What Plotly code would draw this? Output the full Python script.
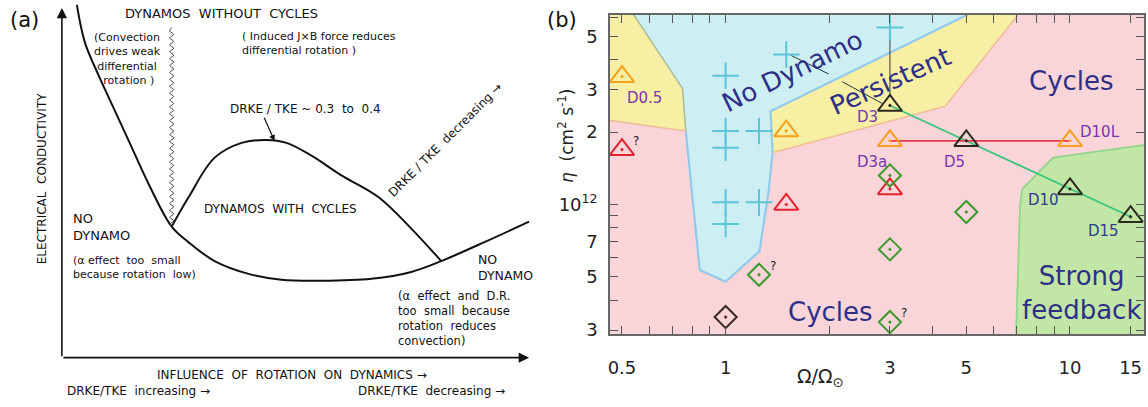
import math
import plotly.graph_objects as go

# ================= Panel (a): schematic (arbitrary units) =================
u_curve_x = [7.5, 8.3, 9.7, 11.2, 12.7, 14.7, 17.0, 18.7, 21.3, 24.7, 28.0, 32.0, 37.0, 41.0, 44.0, 48.5, 52.8]
u_curve_y = [40.2, 36.4, 33.0, 29.7, 26.4, 22.0, 17.7, 16.1, 14.2, 12.9, 12.3, 12.2, 12.4, 13.1, 14.2, 16.2, 18.2]
hump_x = [17.0, 18.7, 21.3, 24.0, 26.5, 28.5, 31.0, 34.0, 37.7, 41.0, 44.0]
hump_y = [17.7, 20.7, 24.7, 26.2, 26.5, 26.2, 24.9, 22.9, 20.7, 17.5, 14.2]
wavy_y = [37.9, 37.55, 37.2, 36.85, 36.5, 36.15, 35.8, 35.45, 35.1, 34.75, 34.4, 34.05, 33.7, 33.35,
          33.0, 32.65, 32.3, 31.95, 31.6, 31.25, 30.9, 30.55, 30.2, 29.85, 29.5, 29.15, 28.8, 28.45,
          28.1, 27.75, 27.4, 27.05, 26.7, 26.35, 26.0, 25.65, 25.3, 24.95, 24.6, 24.25, 23.9, 23.55,
          23.2, 22.85, 22.5, 22.15, 21.8, 21.45, 21.1, 20.75, 20.4, 20.05, 19.7, 19.35, 19.0, 18.65,
          18.3, 17.95, 17.7]
wavy_x = [17.0, 16.8, 17.2, 16.8, 17.2, 16.8, 17.2, 16.8, 17.2, 16.8, 17.2, 16.8, 17.2, 16.8,
          17.2, 16.8, 17.2, 16.8, 17.2, 16.8, 17.2, 16.8, 17.2, 16.8, 17.2, 16.8, 17.2, 16.8,
          17.2, 16.8, 17.2, 16.8, 17.2, 16.8, 17.2, 16.8, 17.2, 16.8, 17.2, 16.8, 17.2, 16.8,
          17.2, 16.8, 17.2, 16.8, 17.2, 16.8, 17.2, 16.8, 17.2, 16.8, 17.2, 16.8, 17.2, 16.8,
          17.2, 16.8, 17.0]
axis_origin = (6.0, 4.4)
axis_x_end = 52.8
axis_y_end = 39.9

# ================= Panel (b): regime diagram =================
# region polygons (Omega/Omega_sun, eta)
pers_left_x = [0.40, 0.541, 0.750, 0.766, 0.40]
pers_left_y = [6.3e12, 6.3e12, 3.03e12, 2.02e12, 2.28e12]
nodyn_x = [0.541, 0.750, 0.766, 0.808, 0.841, 1.0, 1.254, 1.332, 1.369, 1.350, 5.03]
nodyn_y = [6.15e12, 3.03e12, 2.02e12, 0.977e12, 5.34e11, 4.77e11, 6.39e11, 1.125e12, 1.64e12, 2.44e12, 6.15e12]
pers_x = [1.350, 5.03, 7.07, 4.34, 1.369]
pers_y = [2.44e12, 6.15e12, 6.15e12, 2.56e12, 1.64e12]
strong_x = [17.5, 8.93, 7.26, 7.16, 6.97, 17.5]
strong_y = [1.79e12, 1.565e12, 1.157e12, 0.98e12, 2.8e11, 2.8e11]
pinkedge1_x = [0.40, 0.766]
pinkedge1_y = [2.30e12, 2.02e12]
pinkedge2_x = [1.369, 4.34, 7.07]
pinkedge2_y = [1.64e12, 2.56e12, 6.15e12]

# runs
plus_x = [1, 1.5, 3, 1, 1.25, 1, 1, 1.25, 1]
plus_y = [3.43e12, 4.2e12, 5.45e12, 2.02e12, 2.02e12, 1.72e12, 1.02e12, 1.02e12, 8.3e11]
tri_orange_x = [0.5, 1.5, 3, 10]
tri_orange_y = [3.4e12, 2.02e12, 1.84e12, 1.84e12]
tri_red_x = [0.5, 1.5, 3]
tri_red_y = [1.69e12, 1.0e12, 1.16e12]
tri_black_x = [3, 5, 10, 15]
tri_black_y = [2.58e12, 1.84e12, 1.16e12, 0.889e12]
dia_green_x = [1.25, 3, 5, 3, 3]
dia_green_y = [5.1e11, 1.32e12, 9.3e11, 6.5e11, 3.24e11]
dia_black_x = [1]
dia_black_y = [3.4e11]

green_line_x = [3, 5, 10, 15]
green_line_y = [2.58e12, 1.84e12, 1.16e12, 0.889e12]
red_line_x = [3, 5, 10]
red_line_y = [1.84e12, 1.84e12, 1.84e12]

run_labels = ["D0.5", "D3", "D3a", "D5", "D10L", "D10", "D15"]
run_label_x = [0.5, 3, 3, 5, 10, 10, 15]
run_label_y = [3.4e12, 2.58e12, 1.84e12, 1.84e12, 1.84e12, 1.16e12, 0.889e12]
run_label_dx = [23, -22, -18, -12, 30, -26, -27]
run_label_dy = [-21, -12, -21, -21, 9, -11, -14]
run_label_col = ["#7a35b0", "#7a35b0", "#7a35b0", "#7a35b0", "#7a35b0", "#2f3b8f", "#2f3b8f"]

q_x = [0.5, 1.25, 3]
q_y = [1.69e12, 5.1e11, 3.24e11]

leader1_x = [1.543, 1.99]
leader1_y = [4.18e12, 3.49e12]
leader2_x = [2.18, 2.85]
leader2_y = [3.24e12, 2.63e12]
leader3_x = [3, 3]
leader3_y = [6.3e12, 2.84e12]

region_text = ["No Dynamo", "Persistent", "Cycles", "Cycles", "Strong<br>feedback"]
region_x = [1.564, 3.01, 10.1, 2.02, 10.8]
region_y = [3.59e12, 3.27e12, 3.27e12, 3.57e11, 4.30e11]
region_angle = [-26, -24, 0, 0, 0]

x_tickvals = [0.5, 0.6, 0.7, 0.8, 0.9, 1, 2, 3, 4, 5, 6, 7, 8, 9, 10, 15]
x_ticktext = ["0.5", "", "", "", "", "1", "", "3", "", "5", "", "", "", "", "10", "15"]
y_tickvals = [3e11, 4e11, 5e11, 6e11, 7e11, 8e11, 9e11, 1e12, 2e12, 3e12, 4e12, 5e12, 6e12]
y_ticktext = ["3", "", "5", "", "7", "", "", "10<sup>12</sup>", "2", "3", "", "5", ""]

W, H = 1148, 407
fig = go.Figure()
L = math.log10

# ---------- panel (a) traces ----------
blk = "#111111"
fig.add_trace(go.Scatter(x=u_curve_x, y=u_curve_y, mode="lines", line=dict(color=blk, width=2, shape="spline"),
                         xaxis="x", yaxis="y", hoverinfo="skip"))
fig.add_trace(go.Scatter(x=hump_x, y=hump_y, mode="lines", line=dict(color=blk, width=2, shape="spline"),
                         xaxis="x", yaxis="y", hoverinfo="skip"))
fig.add_trace(go.Scatter(x=wavy_x, y=wavy_y, mode="lines", line=dict(color="#444", width=1, shape="spline"),
                         xaxis="x", yaxis="y", hoverinfo="skip"))

FA = "DejaVu Sans"
ann = []
def ta(text, x, y, size, align="center", xanchor="center", angle=0, yanchor="middle"):
    ann.append(dict(text=text, x=x, y=y, xref="x", yref="y", showarrow=False, align=align,
                    xanchor=xanchor, yanchor=yanchor, textangle=angle,
                    font=dict(family=FA, size=size, color=blk)))

# axes arrows of panel (a)
ann.append(dict(x=axis_origin[0], y=axis_y_end, ax=axis_origin[0], ay=axis_origin[1], xref="x", yref="y",
                axref="x", ayref="y", showarrow=True, arrowhead=2, arrowsize=1.3, arrowwidth=1.6,
                arrowcolor=blk, text=""))
ann.append(dict(x=axis_x_end, y=axis_origin[1], ax=axis_origin[0], ay=axis_origin[1], xref="x", yref="y",
                axref="x", ayref="y", showarrow=True, arrowhead=2, arrowsize=1.3, arrowwidth=1.6,
                arrowcolor=blk, text=""))
# leader arrow to hump
ann.append(dict(x=27.3, y=26.4, ax=26.2, ay=28.9, xref="x", yref="y", axref="x", ayref="y",
                showarrow=True, arrowhead=2, arrowsize=1, arrowwidth=1.2, arrowcolor=blk, text=""))

ta("DYNAMOS  WITHOUT  CYCLES", 22.0, 39.3, 13)
ta("(Convection<br>drives weak<br>differential<br> rotation )", 12.6, 34.7, 11)
ta("( Induced J×B force reduces<br>differential rotation )", 23.8, 36.3, 11, align="left", xanchor="left")
ta("DRKE / TKE ~ 0.3  to  0.4", 30.4, 29.6, 12)
ta("DRKE / TKE  decreasing →", 44.4, 26.5, 12, angle=-45)
ta("DYNAMOS  WITH  CYCLES", 27.9, 19.5, 12)
ta("NO<br>DYNAMO", 6.9, 17.7, 13, align="left", xanchor="left")
ta("(α effect  too  small<br>because rotation  low)", 6.9, 13.5, 11, align="left", xanchor="left")
ta("NO<br>DYNAMO", 47.5, 13.5, 12.5, align="left", xanchor="left")
ta("(α  effect  and  D.R.<br>too  small  because<br>rotation  reduces<br>convection)", 39.5, 8.4, 11.5,
   align="left", xanchor="left")
ta("INFLUENCE  OF  ROTATION  ON  DYNAMICS →", 29.1, 2.6, 12)
ta("DRKE/TKE  increasing →", 13.7, 1.0, 12)
ta("DRKE/TKE  decreasing →", 43.0, 1.0, 12)
ta("ELECTRICAL  CONDUCTIVITY", 4.0, 22.6, 12, angle=-90)

# ---------- panel (b) traces ----------
def poly(xs, ys, color):
    fig.add_trace(go.Scatter(x=xs, y=ys, mode="lines", fill="toself", fillcolor=color,
                             line=dict(width=0, color=color), xaxis="x2", yaxis="y2", hoverinfo="skip"))

def pline(xs, ys, color, width, dash="solid"):
    fig.add_trace(go.Scatter(x=xs, y=ys, mode="lines", line=dict(color=color, width=width, dash=dash),
                             xaxis="x2", yaxis="y2", hoverinfo="skip"))

poly(pers_left_x, pers_left_y, "#f7efa3")
poly(pers_x, pers_y, "#f7efa3")
poly(nodyn_x, nodyn_y, "#cdeef3")
poly(strong_x, strong_y, "#c2e6a6")
pline(nodyn_x[0:3], nodyn_y[0:3], "#a5bd98", 1.5)
pline(nodyn_x[2:], nodyn_y[2:], "#92c9ec", 2.2)
pline(pinkedge1_x, pinkedge1_y, "#f1bd9a", 1.6)
pline(pinkedge2_x, pinkedge2_y, "#f1bd9a", 1.6)
pline(strong_x[:5], strong_y[:5], "#92d68a", 1.8)
pline(leader1_x, leader1_y, "#2a3a3a", 1)
pline(leader2_x, leader2_y, "#2a3a3a", 1)
pline(leader3_x, leader3_y, "#3a3a3a", 1)
pline(green_line_x, green_line_y, "#3cc47c", 1.8)
pline(red_line_x, red_line_y, "#e8384a", 1.8)

def mk(xs, ys, symbol, color, size, width=2):
    fig.add_trace(go.Scatter(x=xs, y=ys, mode="markers", xaxis="x2", yaxis="y2", hoverinfo="skip",
                             marker=dict(symbol=symbol, size=size, color=color,
                                         line=dict(color=color, width=width))))

mk(plus_x, plus_y, "cross-thin", "#5cc6d8", 19, 2)
mk(tri_orange_x, tri_orange_y, "triangle-up-open-dot", "#f5a11c", 21)
mk(tri_red_x, tri_red_y, "triangle-up-open-dot", "#e0232f", 21)
mk(tri_black_x, tri_black_y, "triangle-up-open-dot", "#2c2a1e", 21)
mk(dia_green_x, dia_green_y, "diamond-open-dot", "#3c9a2c", 17)
mk(dia_black_x, dia_black_y, "diamond-open-dot", "#3a2a26", 17)

FB = "DejaVu Sans"
navy = "#2e3086"
# annotations on log axes take log10 positions
for t, x, y, dx, dy, c in zip(run_labels, run_label_x, run_label_y, run_label_dx, run_label_dy, run_label_col):
    ann.append(dict(text=t, x=L(x), y=L(y), xref="x2", yref="y2", xshift=dx, yshift=dy, showarrow=False,
                    font=dict(family=FB, size=15, color=c)))
for x, y in zip(q_x, q_y):
    ann.append(dict(text="?", x=L(x), y=L(y), xref="x2", yref="y2", xshift=14, yshift=9, showarrow=False,
                    font=dict(family=FB, size=12, color="#222")))
for t, x, y, a in zip(region_text, region_x, region_y, region_angle):
    ann.append(dict(text=t, x=L(x), y=L(y), xref="x2", yref="y2", showarrow=False, textangle=a,
                    font=dict(family=FB, size=26, color=navy)))

# axis titles and panel tags
ann.append(dict(text="<i>η</i>  (cm<sup>2</sup> s<sup>-1</sup>)", x=565 / W, y=1 - 138 / H, xref="paper",
                yref="paper", showarrow=False, textangle=-90, xanchor="center", yanchor="middle",
                font=dict(family=FB, size=17, color="#222")))
ann.append(dict(text="Ω/Ω<sub>⊙</sub>", x=820 / W, y=1 - 383 / H, xref="paper", yref="paper",
                xanchor="center", yanchor="middle",
                showarrow=False, font=dict(family=FB, size=19, color="#222")))
ann.append(dict(text="(a)", x=23 / W, y=1 - 20 / H, xref="paper", yref="paper", showarrow=False,
                xanchor="center", yanchor="middle", font=dict(family=FB, size=21, color="#111")))
ann.append(dict(text="(b)", x=561 / W, y=1 - 20 / H, xref="paper", yref="paper", showarrow=False,
                xanchor="center", yanchor="middle", font=dict(family=FB, size=21, color="#111")))

axb = dict(showline=True, linecolor="#666", linewidth=1.5, mirror="allticks", ticks="inside",
           ticklen=8, tickwidth=1.2, tickcolor="#555", showgrid=False, zeroline=False,
           tickfont=dict(family=FB, size=18, color="#222"))

fig.update_layout(
    width=W, height=H, margin=dict(l=0, r=0, t=0, b=0),
    paper_bgcolor="white", plot_bgcolor="rgba(0,0,0,0)", showlegend=False,
    xaxis=dict(domain=[0, 540 / W], range=[0, 54], visible=False, fixedrange=True),
    yaxis=dict(domain=[0, 1], range=[0, 40.7], visible=False, fixedrange=True),
    xaxis2=dict(domain=[609 / W, 1144 / W], type="log", range=[-0.336, 1.215], anchor="y2",
                tickvals=x_tickvals, ticktext=x_ticktext, ticklabelstandoff=17, **axb),
    yaxis2=dict(domain=[68 / H, 392 / H], type="log", range=[11.461, 12.789], anchor="x2",
                tickvals=y_tickvals, ticktext=y_ticktext, ticklabelstandoff=7, **axb),
    shapes=[dict(type="rect", xref="x2 domain", yref="y2 domain", x0=0, x1=1, y0=0, y1=1,
                 fillcolor="#f9d5d9", line=dict(width=0), layer="below")],
    annotations=ann,
)

fig.write_html("out.html")
